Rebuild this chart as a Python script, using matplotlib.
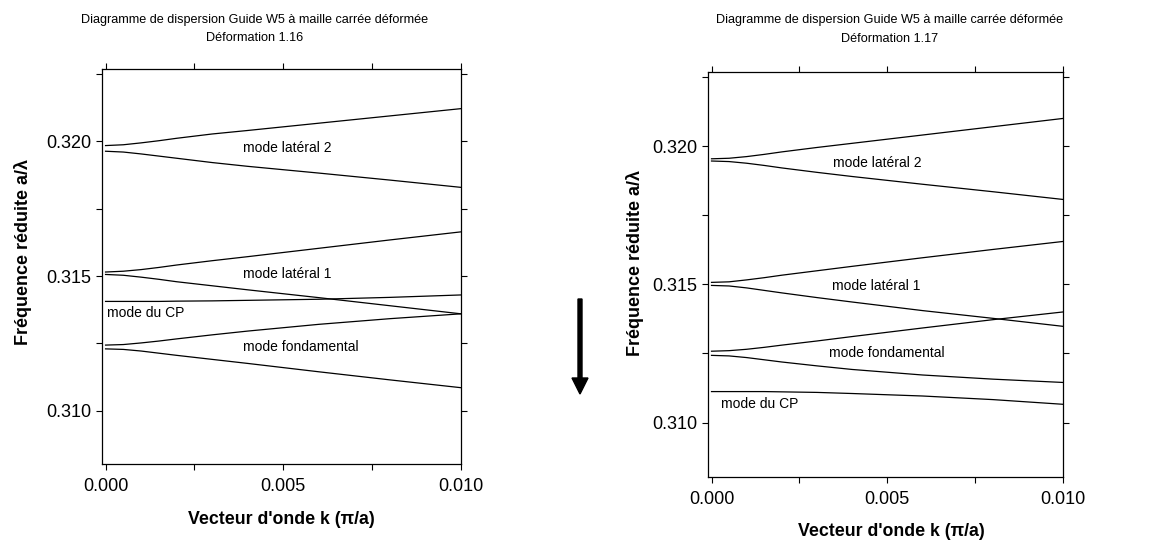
import matplotlib
matplotlib.use("Agg")
import matplotlib.pyplot as plt
from matplotlib.patches import FancyArrow
from matplotlib.ticker import MultipleLocator

plt.rcParams["font.family"] = ["Liberation Sans", "DejaVu Sans"]

# wave vector k (pi/a)
k = [0.0, 0.0005, 0.001, 0.0015, 0.002, 0.003, 0.004, 0.006, 0.008, 0.010]

# Deformation 1.16
lat2_up_116 = [0.31984, 0.31987, 0.31994, 0.32002, 0.32011, 0.32027, 0.32040, 0.32067, 0.32094, 0.32121]
lat2_lo_116 = [0.31963, 0.31960, 0.31953, 0.31945, 0.31937, 0.31921, 0.31907, 0.31882, 0.31856, 0.31829]
lat1_up_116 = [0.31515, 0.31518, 0.31524, 0.31532, 0.31541, 0.31557, 0.31572, 0.31603, 0.31634, 0.31664]
lat1_lo_116 = [0.31506, 0.31503, 0.31496, 0.31488, 0.31479, 0.31464, 0.31449, 0.31420, 0.31390, 0.31360]
cp_116 = [0.31406, 0.31406, 0.31406, 0.31406, 0.31407, 0.31408, 0.31410, 0.31414, 0.31421, 0.31430]
fond_up_116 = [0.31244, 0.31246, 0.31252, 0.31259, 0.31267, 0.31282, 0.31296, 0.31321, 0.31342, 0.31360]
fond_lo_116 = [0.31230, 0.31228, 0.31222, 0.31214, 0.31206, 0.31191, 0.31176, 0.31145, 0.31115, 0.31086]

# Deformation 1.17
lat2_up_117 = [0.31954, 0.31956, 0.31962, 0.31970, 0.31979, 0.31995, 0.32010, 0.32040, 0.32070, 0.32100]
lat2_lo_117 = [0.31946, 0.31944, 0.31938, 0.31930, 0.31921, 0.31905, 0.31890, 0.31862, 0.31835, 0.31807]
lat1_up_117 = [0.31507, 0.31509, 0.31516, 0.31524, 0.31533, 0.31549, 0.31565, 0.31596, 0.31626, 0.31655]
lat1_lo_117 = [0.31496, 0.31494, 0.31487, 0.31478, 0.31469, 0.31452, 0.31436, 0.31405, 0.31377, 0.31348]
cp_117 = [0.31112, 0.31112, 0.31112, 0.31112, 0.31111, 0.31109, 0.31105, 0.31096, 0.31083, 0.31066]
fond_up_117 = [0.31258, 0.31260, 0.31265, 0.31272, 0.31280, 0.31295, 0.31311, 0.31342, 0.31372, 0.31400]
fond_lo_117 = [0.31243, 0.31241, 0.31235, 0.31227, 0.31219, 0.31205, 0.31192, 0.31172, 0.31157, 0.31145]

labels = ["mode latéral 2", "mode latéral 1", "mode du CP", "mode fondamental"]
label_pos_116 = [(0.00388, 0.31974), (0.00388, 0.31506), (0.00004, 0.31364), (0.00388, 0.31238)]
label_pos_117 = [(0.00346, 0.31940), (0.00343, 0.31493), (0.00028, 0.31068), (0.00334, 0.31251)]

title_line1 = "Diagramme de dispersion Guide W5 à maille carrée déformée"


def style_axes(ax):
    ax.set_xlim(-0.0001, 0.01)
    ax.set_ylim(0.30803, 0.32268)
    ax.xaxis.set_major_locator(MultipleLocator(0.005))
    ax.xaxis.set_minor_locator(MultipleLocator(0.0025))
    ax.yaxis.set_major_locator(MultipleLocator(0.005))
    ax.yaxis.set_minor_locator(MultipleLocator(0.0025))
    ax.xaxis.set_major_formatter(plt.FormatStrFormatter("%.3f"))
    ax.yaxis.set_major_formatter(plt.FormatStrFormatter("%.3f"))
    ax.tick_params(which="both", direction="out", length=4, width=0.8,
                   top=True, right=True, labelsize=13)
    ax.tick_params(axis="y", pad=4)
    ax.tick_params(axis="x", pad=6)
    for s in ax.spines.values():
        s.set_linewidth(0.9)
    ax.set_xlabel("Vecteur d'onde k (π/a)", fontsize=12.8, fontweight="bold")
    ax.set_ylabel("Fréquence réduite a/λ", fontsize=13, fontweight="bold")


fig = plt.figure(figsize=(11.59, 5.41), dpi=100)
W, H = 1159, 541

ax1 = fig.add_axes([102 / W, (H - 464) / H, 359 / W, 395 / H])
ax2 = fig.add_axes([708 / W, (H - 477) / H, 355 / W, 405 / H])

series_116 = [lat2_up_116, lat2_lo_116, lat1_up_116, lat1_lo_116, cp_116, fond_up_116, fond_lo_116]
series_117 = [lat2_up_117, lat2_lo_117, lat1_up_117, lat1_lo_117, cp_117, fond_up_117, fond_lo_117]

for ax, series, lpos in [(ax1, series_116, label_pos_116), (ax2, series_117, label_pos_117)]:
    for s in series:
        ax.plot(k, s, color="black", lw=0.9)
    for txt, (x, y) in zip(labels, lpos):
        ax.text(x, y, txt, fontsize=10, ha="left", va="center")
    style_axes(ax)

ax1.xaxis.set_label_coords(0.5, -0.12)
ax1.yaxis.set_label_coords(-0.195, 0.537)
ax2.xaxis.set_label_coords(0.517, -0.113)
ax2.yaxis.set_label_coords(-0.18, 0.528)

# titles
fig.text(255 / W, 1 - 20 / H, title_line1, fontsize=9.1, ha="center", va="center")
fig.text(255 / W, 1 - 38 / H, "Déformation 1.16", fontsize=9.1, ha="center", va="center")
fig.text(890 / W, 1 - 20 / H, title_line1, fontsize=9.1, ha="center", va="center")
fig.text(890 / W, 1 - 39 / H, "Déformation 1.17", fontsize=9.1, ha="center", va="center")

# arrow between panels
fig.patches.append(FancyArrow(
    580 / W, 1 - 299 / H, 0, -(394 - 299) / H, width=4 / W,
    head_width=16 / W, head_length=16 / H, length_includes_head=True,
    color="black", transform=fig.transFigure, figure=fig))

fig.savefig("out.png", dpi=100)
